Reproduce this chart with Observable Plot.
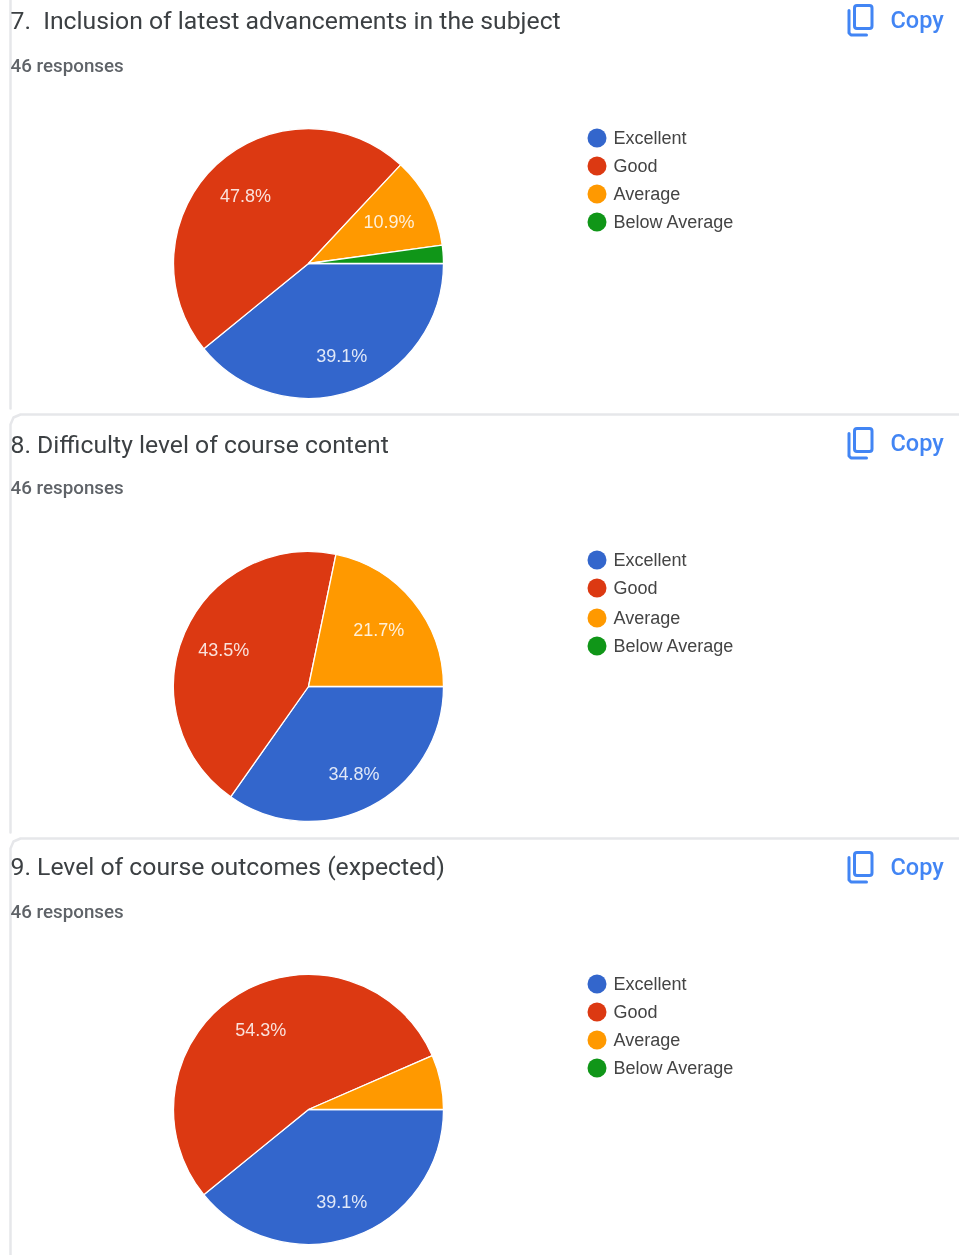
<!DOCTYPE html>
<html>
<head>
<meta charset="utf-8">
<script src="https://cdn.jsdelivr.net/npm/d3@7"></script>
<script src="https://cdn.jsdelivr.net/npm/@observablehq/plot@0.6"></script>
<style>
html,body{margin:0;padding:0;background:#fff}
svg{display:block;filter:blur(0.7px)}
</style>
</head>
<body>
<div id="chart"></div>
<script>
// ---- data ----
const categories = ["Excellent", "Good", "Average", "Below Average"];
const colors = ["#3366cc", "#dc3912", "#ff9900", "#109618"];
const titles = [
  "7.  Inclusion of latest advancements in the subject",
  "8. Difficulty level of course content",
  "9. Level of course outcomes (expected)"
];
const responses = ["46 responses", "46 responses", "46 responses"];
const counts7 = [18, 22, 5, 1];
const counts8 = [16, 20, 10, 0];
const counts9 = [18, 25, 3, 0];
const allCounts = [counts7, counts8, counts9];

// ---- layout ----
const W = 959, H = 1255;
const pieCY = [263.5, 686.5, 1109.5];
const titleY = [21, 445, 867];
const respY = [65.5, 487.5, 911.5];
const copyY = [20, 443, 867];
const legendY = [[137.5,165.5,193.5,221.5],[559.5,587.5,617.5,645.5],[983.5,1011.5,1039.5,1067.5]];
const PIE_CX = 308.5, PIE_R = 135, MIN_LABEL = 0.07;
const labelRadius = [98, 93, 90, 90];

// ---- derived tables ----
const slices = allCounts.flatMap((counts, c) => {
  const total = d3.sum(counts);
  const arcs = d3.pie().sort(null).startAngle(Math.PI / 2).endAngle(Math.PI * 2.5)(counts);
  return arcs.map((a, i) => ({
    cat: categories[i], idx: i, cx: PIE_CX, cy: pieCY[c], share: counts[i] / total,
    a0: a.startAngle, a1: a.endAngle, mid: (a.startAngle + a.endAngle) / 2
  })).filter(d => d.share > 0);
});
const labels = slices.filter(d => d.share >= MIN_LABEL).map(d => ({
  x: d.cx + labelRadius[d.idx] * Math.sin(d.mid),
  y: d.cy - labelRadius[d.idx] * Math.cos(d.mid),
  t: (d.share * 100).toFixed(1) + "%"
}));
const legend = legendY.flatMap(ys => ys.map((y, i) => ({y, cat: categories[i]})));
const titleRows = titles.map((t, i) => ({t, y: titleY[i]}));
const respRows = responses.map((t, i) => ({t, y: respY[i]}));
const copyRows = copyY.map(y => ({y}));
const iconBack = copyY.flatMap((y, k) => [
  {k, x: 848.5, y: y - 10}, {k, x: 848.5, y: y + 12.5}, {k, x: 850.5, y: y + 14.5}, {k, x: 866, y: y + 14.5}
]);
const cardLines = [
  {k: 0, x: 10, y: 0}, {k: 0, x: 10, y: 408},
  ...[414, 838].flatMap((t, i) => [
    {k: i + 1, x: 959, y: t}, {k: i + 1, x: 20, y: t}, {k: i + 1, x: 13, y: t + 3},
    {k: i + 1, x: 10, y: t + 10}, {k: i + 1, x: 10, y: i === 0 ? 832 : 1255}
  ])
];

// pie slices: a dot mark whose resolved channels are rendered as arcs
function arcRender(index, scales, values) {
  const g = d3.create("svg:g").attr("aria-label", "pie slice");
  const arc = d3.arc();
  for (const i of index) {
    const d = slices[i];
    g.append("path")
      .attr("transform", `translate(${values.x[i]},${values.y[i]})`)
      .attr("d", arc({innerRadius: 0, outerRadius: scales.x(PIE_R) - scales.x(0), startAngle: d.a0, endAngle: d.a1}))
      .attr("fill", scales.color(d.cat))
      .attr("stroke", "#fff")
      .attr("stroke-width", 1.3)
      .attr("stroke-linejoin", "round");
  }
  return g.node();
}

const chart = Plot.plot({
  width: W, height: H, margin: 0,
  style: {background: "#fff"},
  x: {domain: [0, W], range: [0, W], axis: null},
  y: {domain: [0, H], range: [0, H], axis: null},
  color: {domain: categories, range: colors},
  marks: [
    Plot.line(cardLines, {x: "x", y: "y", z: "k", stroke: "#e6e7ea", strokeWidth: 2.5, curve: "linear"}),
    Plot.text(titleRows, {x: 10, y: "y", text: "t", textAnchor: "start", fontFamily: "Roboto", fontSize: 24.75, fill: "#3c4043"}),
    Plot.text(respRows, {x: 10, y: "y", text: "t", textAnchor: "start", fontFamily: "Roboto", fontSize: 18.8, fontWeight: 500, fill: "#5f6368"}),
    Plot.dot(slices, {x: "cx", y: "cy", fill: "cat", render: arcRender}),
    Plot.text(labels, {x: "x", y: "y", text: "t", fontFamily: "Liberation Sans", fontSize: 18, fill: "#fff", fillOpacity: 0.85}),
    Plot.dot(legend, {x: 596.5, y: "y", r: 9.5, fill: "cat"}),
    Plot.text(legend, {x: 613, y: "y", text: "cat", textAnchor: "start", fontFamily: "Liberation Sans", fontSize: 18, fill: "#444"}),
    Plot.rect(copyRows, {x1: 854.5, x2: 872, y1: d => d.y - 14.5, y2: d => d.y + 8.5, rx: 2.5, stroke: "#4285f4", strokeWidth: 3, fill: "none"}),
    Plot.line(iconBack, {x: "x", y: "y", z: "k", stroke: "#4285f4", strokeWidth: 3, strokeLinejoin: "round"}),
    Plot.text(copyRows, {x: 890, y: "y", text: () => "Copy", textAnchor: "start", fontFamily: "Roboto", fontSize: 23.5, fontWeight: 500, fill: "#4285f4"})
  ]
});
document.getElementById("chart").append(chart);
</script>
</body>
</html>
